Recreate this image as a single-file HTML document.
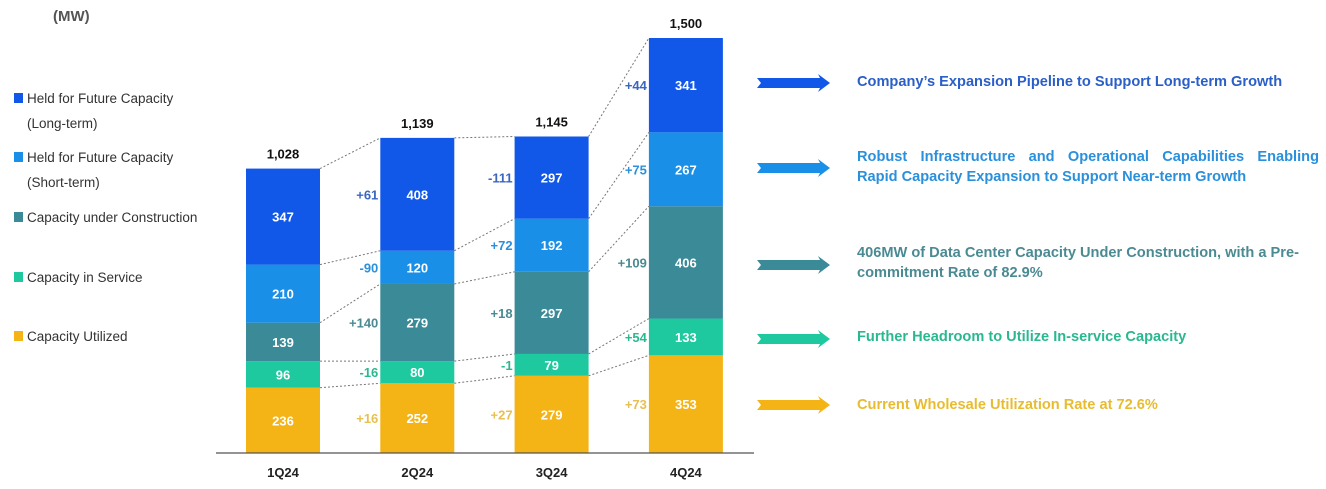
<!DOCTYPE html>
<html><head><meta charset="utf-8"><style>
body{margin:0;background:#fff;width:1326px;height:489px;overflow:hidden;font-family:"Liberation Sans",sans-serif;}
svg{display:block}
.note{position:absolute;left:857px;width:462px;font-weight:bold;font-size:14.6px;line-height:20px;}
.jl{display:block;text-align:justify;text-align-last:justify;white-space:nowrap;}
</style></head><body>
<svg width="1326" height="489" id="chart">
<text x="53" y="21" font-size="15" font-weight="bold" fill="#555">(MW)</text>
<g id="legend"></g>
<g id="marks"></g>
</svg>
<div class="note" style="top:72px;color:#2a5fc8">Company’s Expansion Pipeline to Support Long-term Growth</div>
<div class="note" style="top:147px;color:#2a90dc"><span class="jl" style="white-space:normal">Robust Infrastructure and Operational Capabilities Enabling</span>Rapid Capacity Expansion to Support Near-term Growth</div>
<div class="note" style="top:243px;color:#4a8a92">406MW of Data Center Capacity Under Construction, with a Pre-commitment Rate of 82.9%</div>
<div class="note" style="top:327px;color:#2ab890">Further Headroom to Utilize In-service Capacity</div>
<div class="note" style="top:395px;color:#e8bc30">Current Wholesale Utilization Rate at 72.6%</div>
<script>
const categories=["1Q24","2Q24","3Q24","4Q24"];
const seriesNames=["Capacity Utilized","Capacity in Service","Capacity under Construction","Held for Future Capacity (Short-term)","Held for Future Capacity (Long-term)"];
const utilized=[236,252,279,353];
const inService=[96,80,79,133];
const construction=[139,279,297,406];
const shortTerm=[210,120,192,267];
const longTerm=[347,408,297,341];
const totals=["1,028","1,139","1,145","1,500"];
const deltaUtilized=["+16","+27","+73"];
const deltaInService=["-16","-1","+54"];
const deltaConstruction=["+140","+18","+109"];
const deltaShort=["-90","+72","+75"];
const deltaLong=["+61","-111","+44"];

const series=[utilized,inService,construction,shortTerm,longTerm];
const deltas=[deltaUtilized,deltaInService,deltaConstruction,deltaShort,deltaLong];
const colors=["#f5b416","#1ec9a0","#3b8a98","#1a8fe8","#1258e8"];
const dColors=["#e8c050","#2ab890","#4a8a92","#2a90dc","#3a66c0"];
const NS="http://www.w3.org/2000/svg";
const base=453, scale=415/1500, barW=74;
const xLeft=i=>246+i*134.3;
const y=v=>base-v*scale;
const marks=document.getElementById('marks');
function mk(tag,attrs,parent,text){const e=document.createElementNS(NS,tag);for(const k in attrs)e.setAttribute(k,attrs[k]);if(text!==undefined)e.textContent=text;(parent||marks).appendChild(e);return e;}

const cum=categories.map((c,i)=>{let s=0;return series.map(arr=>{s+=arr[i];return s;});});
categories.forEach((c,i)=>{
  let bottom=0;
  series.forEach((arr,k)=>{
    const v=arr[i];
    const r=mk('rect',{x:xLeft(i),y:y(bottom+v),width:barW,height:v*scale,fill:colors[k]});
    
    
    const t=mk('text',{x:xLeft(i)+barW/2,y:y(bottom+v/2)+5,'text-anchor':'middle','font-size':13,'font-weight':'bold',fill:'#fff'},marks,v);
    
    
    if(i>0){
      const d=mk('text',{x:xLeft(i)-2,y:y(bottom+v/2)+5,'text-anchor':'end','font-size':13,'font-weight':'bold',fill:dColors[k]},marks,deltas[k][i-1]);
      
      
      const l=mk('line',{x1:xLeft(i-1)+barW,y1:y(cum[i-1][k]),x2:xLeft(i),y2:y(cum[i][k]),stroke:'#777','stroke-width':1,'stroke-dasharray':'2,2'});
      
      
    }
    bottom+=v;
  });
  const tt=mk('text',{x:xLeft(i)+barW/2,y:y(bottom)-10,'text-anchor':'middle','font-size':13,'font-weight':'bold',fill:'#111'},marks,totals[i]);
  
  
  const cl=mk('text',{x:xLeft(i)+barW/2,y:477,'text-anchor':'middle','font-size':13,'font-weight':'bold',fill:'#222'},marks,c);
  
  
});
const ax=mk('line',{x1:216,y1:base,x2:754,y2:base,stroke:'#555','stroke-width':1.2});



// legend
const leg=document.getElementById('legend');
const legItems=[[4,["Held for Future Capacity","(Long-term)"],103],[3,["Held for Future Capacity","(Short-term)"],162],[2,["Capacity under Construction"],222],[1,["Capacity in Service"],282],[0,["Capacity Utilized"],341]];
legItems.forEach(([k,lines,yy])=>{
  const s=mk('rect',{x:14,y:yy-10,width:9,height:10,fill:colors[k]},leg);
  
  
  lines.forEach((ln,j)=>{
    const t=mk('text',{x:27,y:yy+j*25,'font-size':13.5,fill:'#333'},leg,ln);
    
    
  });
});
// arrows
[83,168,265,339,405].forEach((ay,idx)=>{
  const k=4-idx;
  const p=mk('path',{d:`M757 ${ay-5} L820 ${ay-5} L818 ${ay-9} L830 ${ay} L818 ${ay+9} L820 ${ay+5} L757 ${ay+5} L761 ${ay} Z`,fill:colors[k]});
  
  
});
</script>
</body></html>
